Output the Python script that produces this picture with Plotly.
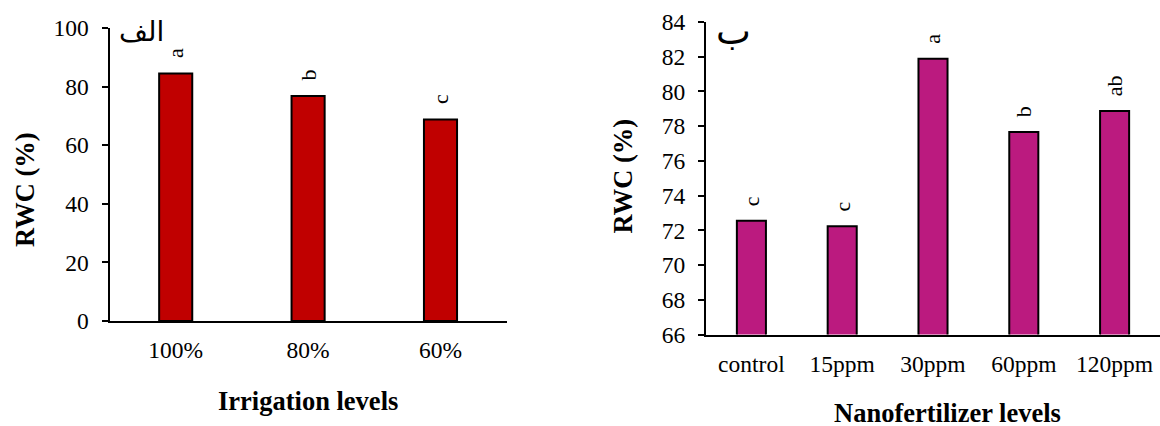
import plotly.graph_objects as go

# ---- data ----
irr_levels = ["100%", "80%", "60%"]
irr_rwc = [84.5, 76.8, 68.8]
irr_letters = ["a", "b", "c"]

nano_levels = ["control", "15ppm", "30ppm", "60ppm", "120ppm"]
nano_rwc = [72.55, 72.23, 81.88, 77.66, 78.87]
nano_letters = ["c", "c", "a", "b", "ab"]

left_yticks = [0, 20, 40, 60, 80, 100]
right_yticks = [66, 68, 70, 72, 74, 76, 78, 80, 82, 84]

W, H = 1160, 426
SERIF = "Liberation Serif, Times New Roman, serif"
TICK_FONT = dict(family=SERIF, size=23.5, color="black")
TITLE_FONT = dict(family=SERIF, size=26.5, color="black")
LETTER_FONT = dict(family=SERIF, size=22, color="black")

fig = go.Figure()

fig.add_trace(go.Bar(
    x=irr_levels, y=irr_rwc, width=0.25,
    marker=dict(color="#C00000", line=dict(color="black", width=2)),
    xaxis="x", yaxis="y", showlegend=False,
))
fig.add_trace(go.Bar(
    x=nano_levels, y=nano_rwc, width=0.32,
    marker=dict(color="#BB1A7F", line=dict(color="black", width=2)),
    xaxis="x2", yaxis="y2", showlegend=False,
))

def px_x(p):
    return p / W

def px_y(p):
    return (H - p) / H

common_x = dict(showline=True, linecolor="black", linewidth=2, ticks="",
                tickfont=TICK_FONT, showgrid=False, zeroline=False,
                ticklabelstandoff=7, fixedrange=True)
common_y = dict(showline=True, linecolor="black", linewidth=2, ticks="outside",
                ticklen=6, tickwidth=2, tickcolor="black", tickfont=TICK_FONT,
                showgrid=False, zeroline=False, ticklabelstandoff=8, fixedrange=True)

fig.update_layout(
    width=W, height=H,
    margin=dict(l=0, r=0, t=0, b=0, autoexpand=False),
    paper_bgcolor="white", plot_bgcolor="white",
    xaxis=dict(domain=[px_x(109.5), px_x(506.7)], anchor="y", **common_x),
    yaxis=dict(domain=[px_y(321), px_y(28)], range=[0, 100], anchor="x",
               tickvals=left_yticks, **common_y),
    xaxis2=dict(domain=[px_x(706), 1.0], anchor="y2", **common_x),
    yaxis2=dict(domain=[px_y(334.5), px_y(22)], range=[66, 84], anchor="x2",
                tickvals=right_yticks, **common_y),
)

annotations = []
for cat, val, lab in zip(irr_levels, irr_rwc, irr_letters):
    annotations.append(dict(text=lab, x=cat, y=val, xref="x", yref="y",
                            showarrow=False, font=LETTER_FONT, textangle=-90,
                            xanchor="center", yanchor="bottom", yshift=13))
for cat, val, lab in zip(nano_levels, nano_rwc, nano_letters):
    annotations.append(dict(text=lab, x=cat, y=val, xref="x2", yref="y2",
                            showarrow=False, font=LETTER_FONT, textangle=-90,
                            xanchor="center", yanchor="bottom", yshift=13))

annotations += [
    dict(text="<b>Irrigation levels</b>", x=px_x(308), y=px_y(401), xref="paper", yref="paper",
         showarrow=False, font=TITLE_FONT, xanchor="center", yanchor="middle"),
    dict(text="<b>Nanofertilizer levels</b>", x=px_x(947), y=px_y(413), xref="paper", yref="paper",
         showarrow=False, font=TITLE_FONT, xanchor="center", yanchor="middle"),
    dict(text="<b>RWC (%)</b>", x=px_x(25), y=px_y(190), xref="paper", yref="paper",
         showarrow=False, font=TITLE_FONT, textangle=-90, xanchor="center", yanchor="middle"),
    dict(text="<b>RWC (%)</b>", x=px_x(622), y=px_y(176.5), xref="paper", yref="paper",
         showarrow=False, font=TITLE_FONT, textangle=-90, xanchor="center", yanchor="middle"),
    dict(text="الف", x=px_x(141), y=px_y(31), xref="paper", yref="paper",
         showarrow=False, font=dict(family="DejaVu Sans", size=28, color="black"),
         xanchor="center", yanchor="middle"),
    dict(text="ب", x=px_x(733), y=px_y(31), xref="paper", yref="paper",
         showarrow=False, font=dict(family="DejaVu Sans", size=37, color="black"),
         xanchor="center", yanchor="middle"),
]
fig.update_layout(annotations=annotations)

fig.write_html(
    "out.html",
    config={"displayModeBar": False},
    post_script="document.body.style.margin='0';document.body.style.overflow='hidden';",
)
